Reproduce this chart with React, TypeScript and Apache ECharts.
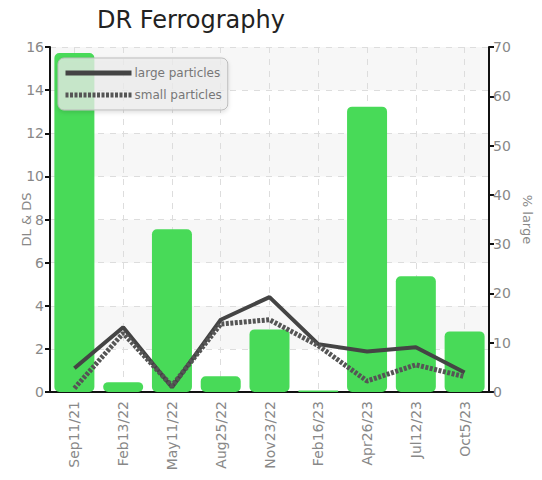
import React, { useEffect, useRef } from "react";
import * as echarts from "echarts";

const categories = ["Sep11/21", "Feb13/22", "May11/22", "Aug25/22", "Nov23/22", "Feb16/23", "Apr26/23", "Jul12/23", "Oct5/23"];
const largeParticles = [1.1, 3.0, 0.22, 3.35, 4.4, 2.22, 1.88, 2.08, 0.9];
const smallParticles = [0.17, 2.73, 0.28, 3.15, 3.35, 2.15, 0.51, 1.26, 0.71];
const percentLarge = [68.8, 2.0, 33.0, 3.2, 12.7, 0.3, 57.9, 23.5, 12.3];

const FONT = "'DejaVu Sans', sans-serif";

export default function App() {
  const ref = useRef<HTMLDivElement>(null);
  useEffect(() => {
    if (!ref.current) return;
    const chart = echarts.init(ref.current, null, { renderer: "svg" });
    chart.setOption({
      animation: false,
      backgroundColor: "#ffffff",
      title: {
        text: "DR Ferrography",
        left: 92,
        top: 3,
        textStyle: { fontFamily: FONT, fontSize: 24, fontWeight: "normal", color: "#222" },
      },
      legend: {
        orient: "vertical",
        left: 58,
        top: 58,
        itemWidth: 66,
        itemHeight: 14,
        itemGap: 10,
        padding: [9, 6, 9, 5],
        backgroundColor: "rgba(238,238,238,0.75)",
        borderColor: "#bbb",
        borderWidth: 1,
        borderRadius: 6,
        shadowColor: "rgba(0,0,0,0.15)",
        shadowBlur: 4,
        shadowOffsetY: 2,
        itemStyle: { opacity: 0 },
        textStyle: { fontFamily: FONT, fontSize: 12, color: "#777", padding: [0, 0, 0, -2] },
        data: [
          { name: "large particles", lineStyle: { width: 5, color: "#444" } },
          { name: "small particles", lineStyle: { width: 5, color: "#555", type: [3, 1.5] } },
        ],
      },
      grid: { left: 50, right: 52, top: 47, bottom: 88 },
      xAxis: {
        type: "category",
        data: categories,
        boundaryGap: true,
        axisLine: { lineStyle: { color: "#111", width: 2 } },
        axisTick: { alignWithLabel: true, length: 5, lineStyle: { color: "#111", width: 2 } },
        axisLabel: { rotate: 90, fontFamily: FONT, fontSize: 14, color: "#888", margin: 9 },
        splitLine: { show: true, alignWithLabel: true, lineStyle: { color: "#ddd", type: [6, 6] } },
      },
      yAxis: [
        {
          type: "value",
          min: 0,
          max: 16,
          interval: 2,
          name: "DL & DS",
          nameLocation: "middle",
          nameGap: 17,
          nameMoveOverlap: false,
          nameTextStyle: { fontFamily: FONT, fontSize: 13, color: "#888" },
          axisLine: { show: true, lineStyle: { color: "#111", width: 2 } },
          axisTick: { show: true, length: 5, lineStyle: { color: "#111", width: 2 } },
          axisLabel: { fontFamily: FONT, fontSize: 14, color: "#888", margin: 6 },
          splitLine: { show: true, lineStyle: { color: "#ddd", type: [6, 6] } },
          splitArea: { show: true, areaStyle: { color: ["#ffffff", "#f7f7f7"] } },
        },
        {
          type: "value",
          min: 0,
          max: 70,
          interval: 10,
          name: "% large",
          nameLocation: "middle",
          nameGap: 32,
          nameMoveOverlap: false,
          nameRotate: -90,
          nameTextStyle: { fontFamily: FONT, fontSize: 13, color: "#888" },
          axisLine: { show: true, lineStyle: { color: "#111", width: 2 } },
          axisTick: { show: true, length: 5, lineStyle: { color: "#111", width: 2 } },
          axisLabel: { fontFamily: FONT, fontSize: 14, color: "#888", margin: 4 },
          splitLine: { show: false },
        },
      ],
      series: [
        {
          name: "% large",
          type: "bar",
          yAxisIndex: 1,
          data: percentLarge,
          barWidth: "82%",
          itemStyle: { color: "#48da58", borderRadius: 5 },
          z: 2,
        },
        {
          name: "large particles",
          type: "line",
          yAxisIndex: 0,
          data: largeParticles,
          symbol: "none",
          lineStyle: { color: "#444", width: 4 },
          itemStyle: { color: "#444" },
          z: 3,
        },
        {
          name: "small particles",
          type: "line",
          yAxisIndex: 0,
          data: smallParticles,
          symbol: "none",
          lineStyle: { color: "#555", width: 5, type: [3, 1.5] },
          itemStyle: { color: "#555" },
          z: 3,
        },
      ],
    });
    return () => chart.dispose();
  }, []);
  return <div ref={ref} style={{ width: 542, height: 480, position: "absolute", left: 0, top: 0 }} />;
}
